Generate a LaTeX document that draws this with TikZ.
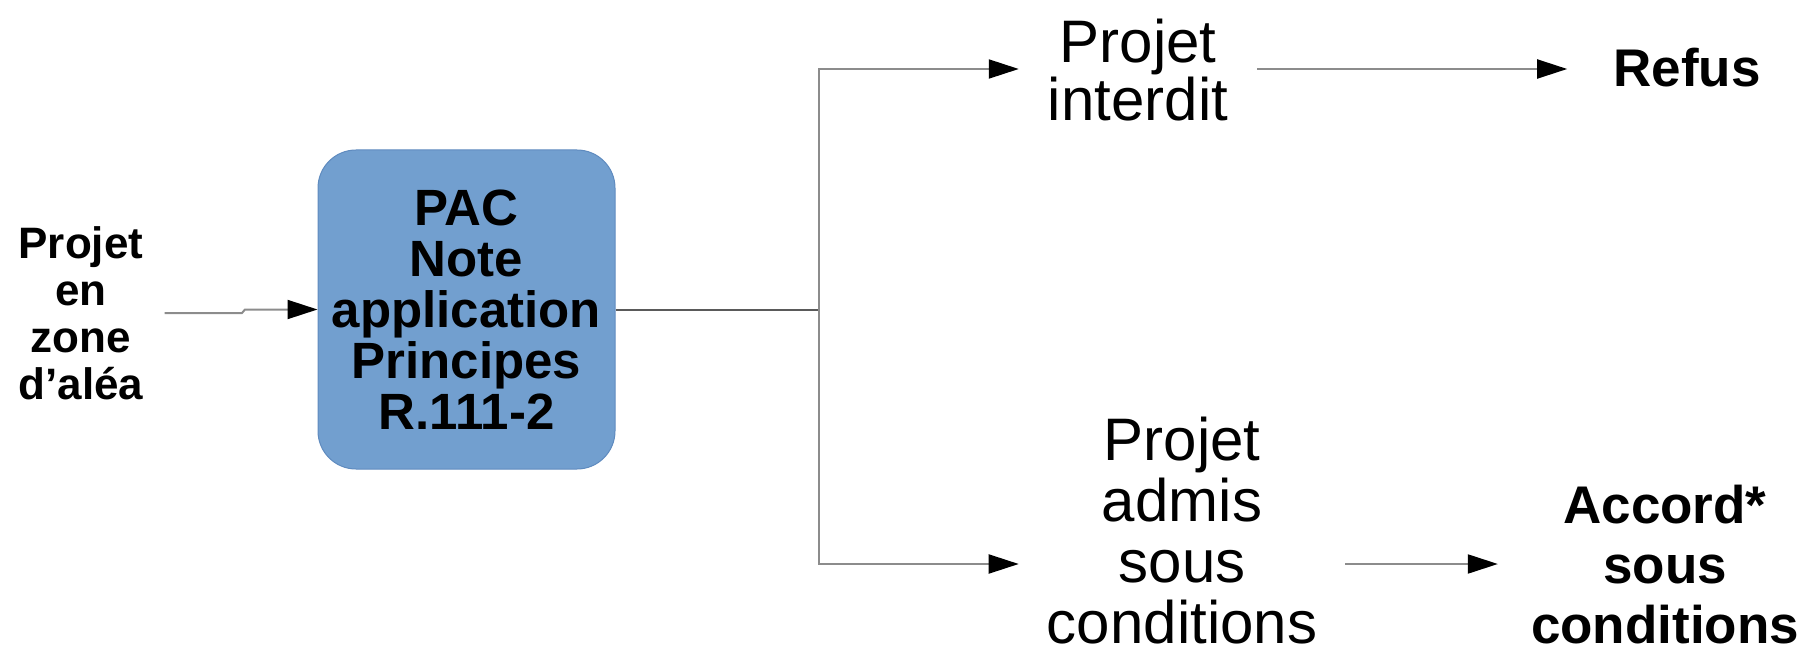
\documentclass[tikz,border=0pt]{standalone}
\usepackage{fontspec}
\setmainfont{Liberation Sans}
\usetikzlibrary{arrows.meta}
\definecolor{boxblue}{HTML}{729FCF}
\definecolor{boxedge}{HTML}{5F8BBF}
\definecolor{linegray}{HTML}{8C8C8C}
\definecolor{linedark}{HTML}{5A5A5A}
\begin{document}
\begin{tikzpicture}[x=1pt,y=-1pt,
  conn/.style={draw=linegray,line width=2pt},
  conndark/.style={draw=linedark,line width=2pt},
  arr/.style={conn,-{Triangle[length=30pt,width=19pt,color=black]}},
  boxst/.style={draw=boxedge,fill=boxblue,line width=1pt,rounded corners=38pt,
    minimum width=297pt,minimum height=319pt,align=center,inner sep=0pt,
    font=\fontsize{51pt}{51pt}\selectfont\bfseries},
  lefttxt/.style={align=center,inner ysep=0pt,inner xsep=21pt,
    font=\fontsize{44pt}{47pt}\selectfont\bfseries},
  regtxt/.style={align=center,inner ysep=0pt,font=\fontsize{60pt}{58pt}\selectfont},
  bldtxt/.style={align=center,inner ysep=0pt,font=\fontsize{53pt}{60pt}\selectfont\bfseries}]
\useasboundingbox (0,0) rectangle (1820,647);
\node[boxst] (pac) at (466.5,309.5) {PAC\\Note\\application\\Principes\\R.111-2};
\node[lefttxt] (inp) at (81,313) {Projet\\en\\zone\\d’aléa};
\node[regtxt,inner xsep=29pt] (pi) at (1138,70) {Projet\\interdit};
\node[bldtxt,inner xsep=46pt,anchor=base] (refus) at (1687,87) {Refus};
\node[regtxt,inner xsep=28pt,font=\fontsize{60pt}{61pt}\selectfont] (pa) at (1182,531) {Projet\\admis\\sous\\conditions};
\node[bldtxt,inner xsep=33pt] (acc) at (1665,565) {Accord*\\sous\\conditions};
\coordinate (k1) at (242,313);
\coordinate (k2) at (245,309.5);
\coordinate (j) at (819,309.5);
\coordinate (jt) at (819,69);
\coordinate (jb) at (819,564);
\draw[arr] (inp.east) -- (k1) -- (k2) -- (pac.west);
\draw[conndark] (pac.east) -- (j);
\draw[arr] (j) -- (jt) -- (jt -| pi.west);
\draw[arr] (j) -- (jb) -- (jb -| pa.west);
\draw[arr] (jt -| pi.east) -- (jt -| refus.west);
\draw[arr] (jb -| pa.east) -- (jb -| acc.west);
\end{tikzpicture}
\end{document}
